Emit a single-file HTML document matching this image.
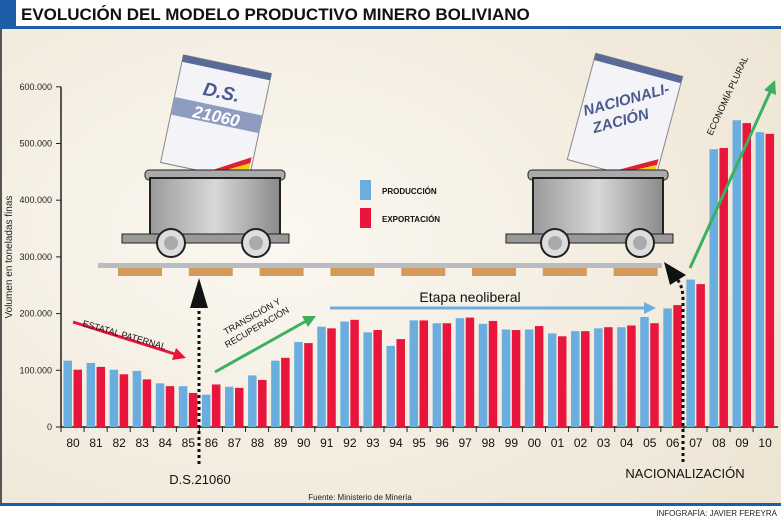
<!DOCTYPE html>
<html><head><meta charset="utf-8"><style>
body{margin:0;width:781px;height:518px;overflow:hidden;background:#f3ede2;font-family:"Liberation Sans",sans-serif}
svg{display:block}
</style></head><body>
<svg id="c" width="781" height="518" xmlns="http://www.w3.org/2000/svg">
<defs>
<radialGradient id="bg" cx="0.35" cy="0.45" r="0.8"><stop offset="0" stop-color="#fbf8f1"/><stop offset="1" stop-color="#ede4d3"/></radialGradient>
<linearGradient id="cart" x1="0" x2="1"><stop offset="0" stop-color="#9a9a9a"/><stop offset="0.5" stop-color="#d8d8d8"/><stop offset="1" stop-color="#8a8a8a"/></linearGradient>
</defs>
<rect x="0" y="0" width="781" height="518" fill="url(#bg)"/>
<rect x="0" y="0" width="781" height="27" fill="#fff"/>
<rect x="0" y="0" width="16" height="26" fill="#1c5ea8"/>
<rect x="0" y="26" width="781" height="3" fill="#1c5ea8"/>
<text x="21" y="20" font-size="17" font-weight="bold" fill="#111">EVOLUCIÓN DEL MODELO PRODUCTIVO MINERO BOLIVIANO</text>
<rect x="0" y="29" width="2" height="475" fill="#555"/>
<rect x="0" y="503" width="781" height="3" fill="#1c5ea8"/>
<rect x="0" y="506" width="781" height="12" fill="#fff"/>
<text x="777" y="516" font-size="8" text-anchor="end" fill="#222">INFOGRAFÍA: JAVIER FEREYRA</text>
<text x="360" y="500" font-size="8" text-anchor="middle" fill="#222">Fuente: Ministerio de Minería</text>
<text transform="translate(12,257) rotate(-90)" font-size="10" text-anchor="middle" fill="#222">Volumen en toneladas finas</text>

<rect x="98" y="263" width="564" height="5" fill="#b7bcc2"/>
<g id="sleepers"></g>

<g>
 <g transform="translate(216,118) rotate(12)">
  <rect x="-45" y="-55" width="90" height="110" fill="#f4f4f8" stroke="#888"/>
  <rect x="-45" y="-55" width="90" height="7" fill="#5a6a96"/>
  <rect x="-45" y="-12" width="90" height="18" fill="#8d9cc0"/>
  <text x="0" y="-20" font-size="19" font-style="italic" font-weight="bold" fill="#4b5a8c" text-anchor="middle">D.S.</text>
  <text x="0" y="4" font-size="17" font-style="italic" font-weight="bold" fill="#fff" text-anchor="middle">21060</text>
  <polygon points="5,53 43,31 43,37 13,53" fill="#e02030"/><polygon points="13,53 43,37 43,45 24,53" fill="#f0d010"/><polygon points="24,53 43,45 43,53" fill="#20a040"/>
 </g>
 <rect x="145" y="170" width="140" height="10" rx="4" fill="#aaa" stroke="#222"/>
 <rect x="150" y="178" width="130" height="57" fill="url(#cart)" stroke="#222" stroke-width="2"/>
 <rect x="122" y="234" width="167" height="9" fill="#999" stroke="#222"/>
 <circle cx="171" cy="243" r="14" fill="#ddd" stroke="#222" stroke-width="2"/><circle cx="171" cy="243" r="7" fill="#aaa"/>
 <circle cx="256" cy="243" r="14" fill="#ddd" stroke="#222" stroke-width="2"/><circle cx="256" cy="243" r="7" fill="#aaa"/>
</g>
<g>
 <g transform="translate(625,118) rotate(15)">
  <rect x="-45" y="-55" width="90" height="110" fill="#f4f4f8" stroke="#888"/>
  <rect x="-45" y="-55" width="90" height="7" fill="#5a6a96"/>
  <text x="0" y="-14" font-size="15" font-style="italic" font-weight="bold" fill="#4b5a8c" text-anchor="middle" transform="rotate(-30 0 -12)">NACIONALI-</text>
  <text x="0" y="8" font-size="15" font-style="italic" font-weight="bold" fill="#4b5a8c" text-anchor="middle" transform="rotate(-30 0 10)">ZACIÓN</text>
  <polygon points="5,53 43,31 43,37 13,53" fill="#e02030"/><polygon points="13,53 43,37 43,45 24,53" fill="#f0d010"/><polygon points="24,53 43,45 43,53" fill="#20a040"/>
 </g>
 <rect x="528" y="170" width="140" height="10" rx="4" fill="#aaa" stroke="#222"/>
 <rect x="533" y="178" width="130" height="57" fill="url(#cart)" stroke="#222" stroke-width="2"/>
 <rect x="506" y="234" width="167" height="9" fill="#999" stroke="#222"/>
 <circle cx="555" cy="243" r="14" fill="#ddd" stroke="#222" stroke-width="2"/><circle cx="555" cy="243" r="7" fill="#aaa"/>
 <circle cx="640" cy="243" r="14" fill="#ddd" stroke="#222" stroke-width="2"/><circle cx="640" cy="243" r="7" fill="#aaa"/>
</g>

<rect x="360" y="180" width="11" height="20" fill="#6aaee0"/>
<text x="382" y="194" font-size="8" font-weight="bold" fill="#111">PRODUCCIÓN</text>
<rect x="360" y="208" width="11" height="20" fill="#e8163c"/>
<text x="382" y="222" font-size="8" font-weight="bold" fill="#111">EXPORTACIÓN</text>

<g id="axes"></g>
<g id="bars"></g>

<g>
 <line x1="73" y1="322" x2="178" y2="355" stroke="#e8163c" stroke-width="3"/>
 <polygon points="186,358 172,360 176,348" fill="#e8163c"/>
 <text transform="translate(82,326) rotate(16)" font-size="9" fill="#111">ESTATAL PATERNAL</text>
</g>
<g>
 <line x1="215" y1="372" x2="308" y2="320" stroke="#3cb060" stroke-width="3"/>
 <polygon points="316,316 302,316 308,327" fill="#3cb060"/>
 <text transform="translate(226,335) rotate(-30)" font-size="9" fill="#111">TRANSICIÓN Y</text>
 <text transform="translate(227,348) rotate(-30)" font-size="9" fill="#111">RECUPERACIÓN</text>
</g>
<g>
 <line x1="330" y1="308" x2="648" y2="308" stroke="#6aaee0" stroke-width="3"/>
 <polygon points="656,308 644,302 644,314" fill="#6aaee0"/>
 <text x="470" y="302" font-size="14" text-anchor="middle" fill="#111">Etapa neoliberal</text>
</g>
<g>
 <line x1="690" y1="268" x2="771" y2="90" stroke="#3cb060" stroke-width="3"/>
 <polygon points="775,80 764,90 776,95" fill="#3cb060"/>
 <text transform="translate(712,136) rotate(-65)" font-size="9" fill="#111">ECONOMÍA PLURAL</text>
</g>
<g>
 <line x1="199" y1="305" x2="199" y2="466" stroke="#111" stroke-width="3" stroke-dasharray="3,3"/>
 <polygon points="199,278 190,308 208,308" fill="#111"/>
 <text x="200" y="484" font-size="13" text-anchor="middle" fill="#111">D.S.21060</text>
</g>
<g>
 <path d="M683,462 L683,300 Q683,285 676,278" stroke="#111" stroke-width="3" stroke-dasharray="3,3" fill="none"/>
 <polygon points="664,262 686,275 670,285" fill="#111"/>
 <text x="685" y="478" font-size="13" text-anchor="middle" fill="#111">NACIONALIZACIÓN</text>
</g>
</svg>
<script>
const years=["80","81","82","83","84","85","86","87","88","89","90","91","92","93","94","95","96","97","98","99","00","01","02","03","04","05","06","07","08","09","10"];
const produccion=[117,113,101,99,77,72,57,71,91,117,150,177,186,167,143,188,183,192,182,172,172,165,169,174,176,194,209,260,490,541,520];
const exportacion=[101,106,93,84,72,60,75,69,83,122,148,174,189,171,155,188,183,193,187,171,178,160,169,176,179,183,215,252,492,536,517];
const yTicks=[0,100,200,300,400,500,600];
const yTickLabels=["0","100.000","200.000","300.000","400.000","500.000","600.000"];
const NS="http://www.w3.org/2000/svg";
const x0=61,step=23.07,y0=427,ppu=0.567;
const xc=i=>x0+12+i*step;
const ys=v=>y0-v*ppu;
function mk(tag,attrs,parent){const e=document.createElementNS(NS,tag);for(const k in attrs)e.setAttribute(k,attrs[k]);parent.appendChild(e);return e;}
const sl=document.getElementById('sleepers');
for(let i=0;i<8;i++){
 const r=mk('rect',{x:118+i*70.8,y:268,width:44,height:8,fill:'#d49a5c'},sl);
 
 
}
const ax=document.getElementById('axes');
const yl=mk('line',{x1:x0,y1:ys(600),x2:x0,y2:y0,stroke:'#222','stroke-width':1.5},ax);


yTicks.forEach((t,i)=>{
 mk('line',{x1:x0-5,y1:ys(t),x2:x0,y2:ys(t),stroke:'#222'},ax);
 const tx=mk('text',{x:x0-9,y:ys(t)+3,'font-size':9,'text-anchor':'end',fill:'#222'},ax);
 tx.textContent=yTickLabels[i];
 
 
});
const xl=mk('line',{x1:x0,y1:y0,x2:x0+years.length*step+2,y2:y0,stroke:'#222','stroke-width':1.5},ax);


const bg=document.getElementById('bars');
years.forEach((yr,i)=>{
 mk('line',{x1:x0+i*step,y1:y0,x2:x0+i*step,y2:y0+5,stroke:'#222'},ax);
 const tx=mk('text',{x:xc(i),y:y0+20,'font-size':12,'text-anchor':'middle',fill:'#111'},ax);
 tx.textContent=yr;
 
 
 const b1=mk('rect',{x:xc(i)-9.5,y:ys(produccion[i]),width:8.5,height:produccion[i]*ppu,fill:'#6aaee0'},bg);
 
 
 const b2=mk('rect',{x:xc(i)+0.5,y:ys(exportacion[i]),width:8.5,height:exportacion[i]*ppu,fill:'#e8163c'},bg);
 
 
});
</script>
</body></html>
